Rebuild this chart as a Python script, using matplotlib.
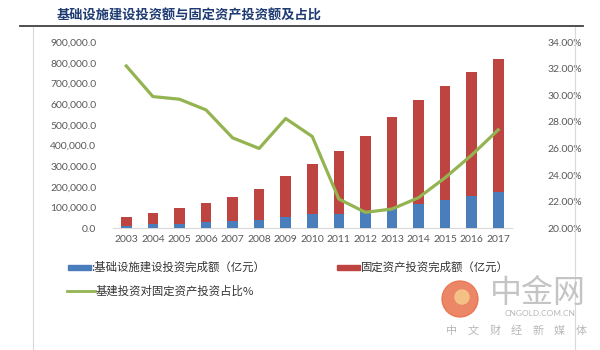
import matplotlib
matplotlib.use('Agg')
import matplotlib.pyplot as plt
from matplotlib.ticker import FuncFormatter, MultipleLocator
from matplotlib.lines import Line2D
from matplotlib.patches import Circle

plt.rcParams['font.family'] = ['Lato', 'Noto Sans CJK SC', 'DejaVu Sans']

years = ['2003', '2004', '2005', '2006', '2007', '2008', '2009', '2010',
         '2011', '2012', '2013', '2014', '2015', '2016', '2017']
# 固定资产投资完成额（亿元）
fixed_invest = [56000, 76000, 97000, 123000, 151000, 188000, 251000, 310000,
                373000, 448000, 537000, 621000, 689000, 757000, 816000]
# 基础设施建设投资完成额（亿元）
infra_invest = [11000, 19000, 22000, 31000, 34000, 40000, 57000, 70000,
                70000, 81000, 92000, 118000, 136000, 156000, 177000]
# 基建投资对固定资产投资占比
ratio = [0.322, 0.299, 0.297, 0.289, 0.268, 0.260, 0.2825, 0.269,
         0.222, 0.212, 0.2145, 0.223, 0.238, 0.255, 0.274]

blue = '#4a7dbb'
red = '#be4441'
green = '#93b450'
tick_color = '#595959'
cjk = ['Noto Sans CJK SC', 'DejaVu Sans']

fig = plt.figure(figsize=(6, 3.5), dpi=100)
W, H = 600.0, 350.0

# 标题与分隔线
fig.text(57 / W, 1 - 15 / H, '基础设施建设投资额与固定资产投资额及占比', family=cjk,
         fontsize=9.5, fontweight='bold', color='#1f3b73', va='center', ha='left')
fig.add_artist(Line2D([20 / W, 583 / W], [1 - 26 / H, 1 - 26 / H],
                      color='#404040', lw=1.3, transform=fig.transFigure))
for xb in (33, 575):
    fig.add_artist(Line2D([xb / W, xb / W], [1 - 27 / H, 0], color='#d9d9d9',
                          lw=0.8, transform=fig.transFigure))

ax = fig.add_axes([113 / W, 1 - 228.3 / H, (511.5 - 113) / W, (228.3 - 42) / H])
x = list(range(len(years)))
ax.bar(x, fixed_invest, width=0.4, color=red, zorder=2)
ax.bar(x, infra_invest, width=0.4, color=blue, zorder=3)
ax.set_xlim(-0.5, len(years) - 0.5)
ax.set_ylim(0, 900000)
ax.yaxis.set_major_locator(MultipleLocator(100000))
ax.yaxis.set_major_formatter(FuncFormatter(lambda v, p: '{:,.1f}'.format(v)))
ax.set_xticks(x)
ax.set_xticklabels(years)
for s in ['top', 'left', 'right']:
    ax.spines[s].set_visible(False)
ax.spines['bottom'].set_color('#d9d9d9')
ax.tick_params(axis='both', length=0, labelsize=7.5, colors=tick_color)
ax.tick_params(axis='y', pad=12)
ax.tick_params(axis='x', pad=5)

ax2 = ax.twinx()
ax2.plot(x, ratio, color=green, lw=2.3, zorder=4)
ax2.set_ylim(0.20, 0.34)
ax2.yaxis.set_major_locator(MultipleLocator(0.02))
ax2.yaxis.set_major_formatter(FuncFormatter(lambda v, p: '{:.2f}%'.format(v * 100)))
for s in ['top', 'left', 'right', 'bottom']:
    ax2.spines[s].set_visible(False)
ax2.tick_params(axis='y', length=0, labelsize=7.5, colors=tick_color, pad=26)

# 图例
leg_font = dict(family=cjk, fontsize=8.2, color='#333333', va='center', ha='left')
fig.patches.append(plt.Rectangle((68 / W, 1 - 270 / H), 23 / W, 5 / H, color=blue,
                                 transform=fig.transFigure))
fig.text(91 / W, 1 - 267.5 / H, ':基础设施建设投资完成额（亿元）', **leg_font)
fig.patches.append(plt.Rectangle((337 / W, 1 - 270 / H), 23 / W, 5 / H, color=red,
                                 transform=fig.transFigure))
fig.text(361 / W, 1 - 267.5 / H, '固定资产投资完成额（亿元）', **leg_font)
fig.add_artist(Line2D([67 / W, 95 / W], [1 - 291 / H, 1 - 291 / H], color=green,
                      lw=2, transform=fig.transFigure))
fig.text(96 / W, 1 - 291 / H, '基建投资对固定资产投资占比%', **leg_font)

# 水印
fig.patches.append(Circle((460 / 100, (H - 299) / 100), 0.18, color='#e8714b',
                          alpha=0.85, transform=fig.dpi_scale_trans))
fig.patches.append(Circle((462 / 100, (H - 297) / 100), 0.07, color='#f6c78a',
                          alpha=0.9, transform=fig.dpi_scale_trans))
fig.text(490 / W, 1 - 293 / H, '中金网', family=cjk, fontsize=23, color='#c4c4c4',
         va='center', ha='left')
fig.text(540 / W, 1 - 313 / H, 'CNGOLD.COM.CN', fontsize=6, color='#b8b8b8',
         va='center', ha='center')
for i, ch in enumerate('中文财经新媒体'):
    fig.text((452 + i * 21.5) / W, 1 - 331 / H, ch, family=cjk, fontsize=8,
             color='#b8b8b8', va='center', ha='center')

plt.savefig('out.png', dpi=100)
